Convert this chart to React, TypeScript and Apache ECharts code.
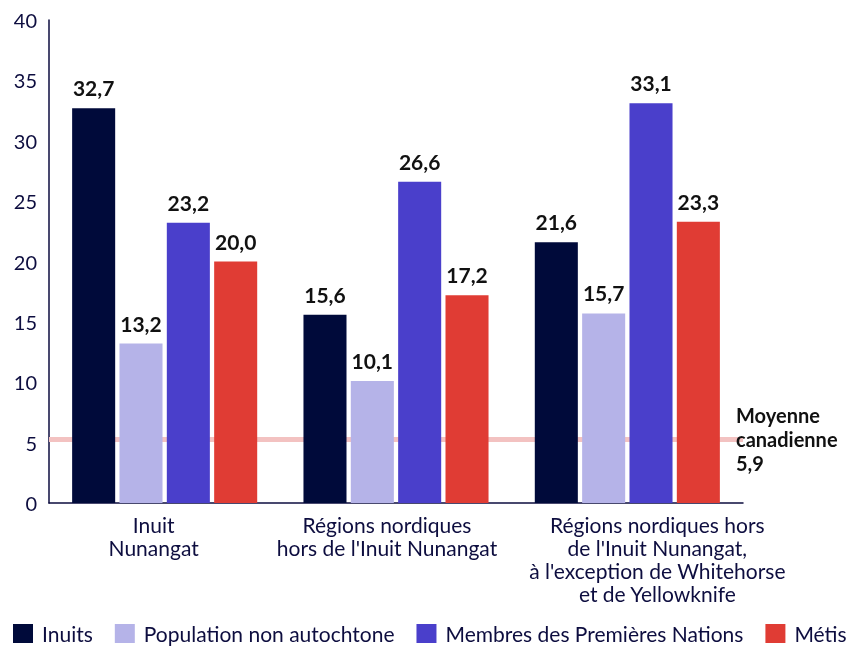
import React, { useEffect, useRef } from "react";
import * as echarts from "echarts";

const categories = [
  "Inuit\nNunangat",
  "Régions nordiques\nhors de l'Inuit Nunangat",
  "Régions nordiques hors\nde l'Inuit Nunangat,\nà l'exception de Whitehorse\net de Yellowknife",
];
const seriesNames = [
  "Inuits",
  "Population non autochtone",
  "Membres des Premières Nations",
  "Métis",
];
const inuits = [32.7, 15.6, 21.6];
const nonAutochtone = [13.2, 10.1, 15.7];
const premieresNations = [23.2, 26.6, 33.1];
const metis = [20.0, 17.2, 23.3];
const canadianAverageLabel = 5.9;
const canadianAverageLineAt = 5.3;
const yTicks = { min: 0, max: 40, interval: 5 };

const colors = ["#000a3a", "#b5b3e8", "#4a3fcb", "#e03c34"];
const FONT = "Lato, 'Open Sans', sans-serif";
const NAVY = "#0d0d3f";
// horizontal nudges of category labels (padding [top,right,bottom,left])
const labelPads = [
  [0, 22, 0, 0],
  [0, 18, 0, 0],
  [0, 0, 0, 60],
];

const fmt = (v: number) => v.toFixed(1).replace(".", ",");

export default function App() {
  const ref = useRef<HTMLDivElement>(null);
  useEffect(() => {
    if (!ref.current) return;
    const chart = echarts.init(ref.current, undefined, { renderer: "svg" });
    const allData = [inuits, nonAutochtone, premieresNations, metis];
    const series: any[] = allData.map((d, i) => ({
      name: seriesNames[i],
      type: "bar",
      data: d,
      barGap: "10%",
      barCategoryGap: "20%",
      itemStyle: { color: colors[i] },
      label: {
        show: true,
        position: "top",
        distance: 10,
        formatter: (p: any) => fmt(p.value),
        fontFamily: FONT,
        fontWeight: "bold",
        fontSize: 21,
        color: "#111111",
      },
    }));
    series[3].markLine = {
      silent: true,
      symbol: "none",
      lineStyle: { color: "#f3c2c1", width: 5, type: "solid" },
      label: {
        show: true,
        position: "end",
        distance: -7,
        formatter: "Moyenne\ncanadienne\n" + fmt(canadianAverageLabel),
        fontFamily: FONT,
        fontWeight: "bold",
        fontSize: 20,
        lineHeight: 24,
        color: "#111111",
        align: "left",
      },
      data: [{ yAxis: canadianAverageLineAt }],
      z: 1,
    };
    chart.setOption({
      animation: false,
      textStyle: { fontFamily: FONT },
      grid: { left: 49, right: 114, top: 20, bottom: 149, containLabel: false },
      legend: {
        bottom: 3,
        left: 8,
        itemWidth: 20,
        itemHeight: 19,
        itemGap: 22,
        icon: "rect",
        textStyle: {
          fontFamily: FONT,
          fontSize: 21,
          color: NAVY,
          padding: [0, 0, 0, 4],
        },
        data: seriesNames,
      },
      xAxis: {
        type: "category",
        data: categories.map((c, i) => ({
          value: c,
          textStyle: { padding: labelPads[i] },
        })),
        axisLine: { lineStyle: { color: NAVY, width: 1.5 } },
        axisTick: { show: false },
        axisLabel: {
          interval: 0,
          fontFamily: FONT,
          fontSize: 21,
          lineHeight: 23,
          color: NAVY,
          margin: 10,
        },
      },
      yAxis: {
        type: "value",
        min: yTicks.min,
        max: yTicks.max,
        interval: yTicks.interval,
        axisLine: { show: true, lineStyle: { color: NAVY, width: 1.5 } },
        axisTick: { show: false },
        splitLine: { show: false },
        axisLabel: { fontFamily: FONT, fontSize: 20, color: NAVY, margin: 12 },
      },
      series,
    });
    return () => chart.dispose();
  }, []);
  return (
    <div
      ref={ref}
      style={{ position: "fixed", left: 0, top: 0, width: 857, height: 652 }}
    />
  );
}
